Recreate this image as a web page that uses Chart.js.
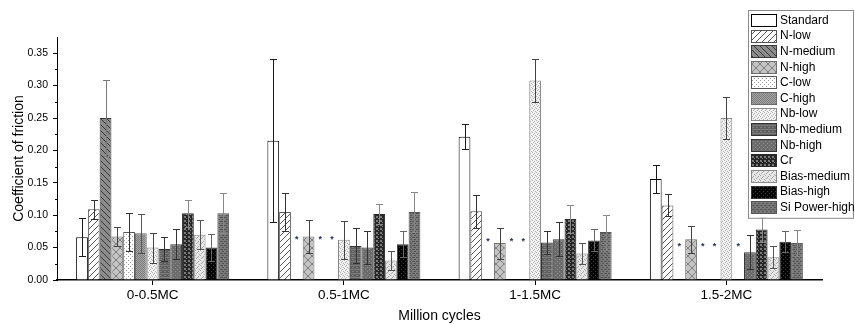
<!DOCTYPE html>
<html lang="en">
<head>
    <meta charset="utf-8"/>
    <title>Coefficient of friction</title>
    <script src="https://cdn.jsdelivr.net/npm/chart.js"></script>
    <style>
        body {
            margin: 0;
            background: #ffffff;
        }
        #chart {
            display: block;
        }
    </style>
</head>
<body>
    <canvas id="chart" width="855" height="324"></canvas>

    <script>
        // data
        const categories = ['0-0.5MC', '0.5-1MC', '1-1.5MC', '1.5-2MC'];
        const seriesNames = ['Standard', 'N-low', 'N-medium', 'N-high', 'C-low', 'C-high', 'Nb-low',
            'Nb-medium', 'Nb-high', 'Cr', 'Bias-medium', 'Bias-high', 'Si Power-high'];

        const standard = [0.066, 0.215, 0.221, 0.156];
        const nLow = [0.109, 0.105, 0.106, 0.115];
        const nMedium = [0.250, null, null, null];
        const nHigh = [0.067, 0.067, 0.057, 0.063];
        const cLow = [0.074, null, null, null];
        const cHigh = [0.072, null, null, null];
        const nbLow = [0.050, 0.062, 0.308, 0.250];
        const nbMedium = [0.048, 0.0525, 0.058, null];
        const nbHigh = [0.055, 0.050, 0.063, 0.043];
        const cr = [0.103, 0.102, 0.094, 0.078];
        const biasMedium = [0.070, 0.030, 0.041, 0.035];
        const biasHigh = [0.050, 0.055, 0.061, 0.059];
        const siPowerHigh = [0.103, 0.105, 0.074, 0.057];

        const standardErr = [0.029, 0.126, 0.019, 0.0215];
        const nLowErr = [0.015, 0.029, 0.025, 0.017];
        const nMediumErr = [0.059, null, null, null];
        const nHighErr = [0.015, 0.026, 0.024, 0.021];
        const cLowErr = [0.030, null, null, null];
        const cHighErr = [0.030, null, null, null];
        const nbLowErr = [0.023, 0.029, 0.033, 0.033];
        const nbMediumErr = [0.018, 0.027, 0.018, null];
        const nbHighErr = [0.023, 0.025, 0.026, 0.026];
        const crErr = [0.021, 0.016, 0.021, 0.019];
        const biasMediumErr = [0.022, 0.0145, 0.016, 0.017];
        const biasHighErr = [0.021, 0.020, 0.017, 0.016];
        const siPowerHighErr = [0.031, 0.031, 0.027, 0.020];

        // height of the "*" marks standing in for missing bars, per group
        const missingMarkY = [0.066, 0.066, 0.062, 0.054];

        const yTicks = [0, 0.05, 0.10, 0.15, 0.20, 0.25, 0.30, 0.35];
        const yMinorTicks = [0.025, 0.075, 0.125, 0.175, 0.225, 0.275, 0.325];

        const values = [standard, nLow, nMedium, nHigh, cLow, cHigh, nbLow, nbMedium, nbHigh, cr,
            biasMedium, biasHigh, siPowerHigh];
        const errors = [standardErr, nLowErr, nMediumErr, nHighErr, cLowErr, cHighErr, nbLowErr,
            nbMediumErr, nbHighErr, crErr, biasMediumErr, biasHighErr, siPowerHighErr];

        const FONT = "'Liberation Sans', Arial, sans-serif";

        // hatch / dot fills
        function makePattern(size, bg, draw) {
            const c = document.createElement('canvas');
            c.width = size;
            c.height = size;
            const g = c.getContext('2d');
            g.fillStyle = bg;
            g.fillRect(0, 0, size, size);
            if (draw) draw(g, size);
            return g.createPattern(c, 'repeat');
        }
        function diag(g, s, color, dir) {
            g.strokeStyle = color;
            g.lineWidth = 1;
            g.beginPath();
            for (let k = -1; k <= 1; k++) {
                if (dir > 0) {
                    g.moveTo(k * s, s); g.lineTo(k * s + s, 0);
                } else {
                    g.moveTo(k * s, 0); g.lineTo(k * s + s, s);
                }
            }
            g.stroke();
        }
        function dots(g, color, pts) {
            g.fillStyle = color;
            pts.forEach(p => g.fillRect(p[0], p[1], 1, 1));
        }

        const fills = [
            '#ffffff',
            makePattern(6, '#ffffff', (g, s) => diag(g, s, '#555555', 1)),
            makePattern(6, '#8c8c8c', (g, s) => diag(g, s, '#3a3a3a', -1)),
            makePattern(8, '#c4c4c4', (g, s) => { diag(g, s, '#808080', 1); diag(g, s, '#808080', -1); }),
            makePattern(4, '#ffffff', g => dots(g, '#9a9a9a', [[0, 0], [2, 2]])),
            makePattern(2, '#a6a6a6', g => dots(g, '#7c7c7c', [[0, 0], [1, 1]])),
            makePattern(4, '#f2f2f2', g => dots(g, '#b0b0b0', [[0, 0], [2, 1], [1, 2], [3, 3]])),
            makePattern(4, '#5e5e5e', g => { g.fillStyle = '#7e7e7e'; g.fillRect(0, 1, 4, 1); g.fillRect(0, 3, 2, 1); }),
            makePattern(4, '#6c6c6c', g => dots(g, '#8e8e8e', [[1, 1], [3, 3]])),
            makePattern(4, '#262626', g => { g.fillStyle = '#7a7a7a'; g.fillRect(0, 0, 2, 2); g.fillRect(2, 2, 1, 1); }),
            makePattern(5, '#e6e6e6', g => dots(g, '#a8a8a8', [[0, 0], [3, 1], [1, 3], [4, 4], [2, 2]])),
            makePattern(4, '#050505', g => dots(g, '#3c3c3c', [[1, 1], [3, 3]])),
            makePattern(4, '#7a7a7a', g => { g.fillStyle = '#555555'; g.fillRect(0, 1, 3, 1); g.fillRect(2, 3, 3, 1); })
        ];
        const borders = ['#000000', '#555555', '#3a3a3a', '#707070', '#555555', '#6a6a6a', '#8a8a8a',
            '#333333', '#333333', '#2a2a2a', '#8a8a8a', '#333333', '#555555'];
        const errColors = ['#1a1a1a', '#333333', '#7a7a7a', '#444444', '#333333', '#555555', '#444444',
            '#333333', '#333333', '#888888', '#555555', '#666666', '#888888'];

        // error bars and "*" marks for missing values
        const errorBarPlugin = {
            id: 'errorBars',
            afterDatasetsDraw(chart) {
                const ctx = chart.ctx;
                const y = chart.scales.y;
                ctx.save();
                values.forEach((vals, i) => {
                    const meta = chart.getDatasetMeta(i);
                    meta.data.forEach((bar, j) => {
                        const v = vals[j];
                        if (v === null) {
                            ctx.fillStyle = '#1f2d55';
                            ctx.font = 'bold 9px ' + FONT;
                            ctx.textAlign = 'center';
                            ctx.textBaseline = 'middle';
                            ctx.fillText('*', bar.x, y.getPixelForValue(missingMarkY[j]) + 2);
                            return;
                        }
                        const e = errors[i][j];
                        const top = Math.round(y.getPixelForValue(v + e)) + 0.5;
                        const bot = Math.round(y.getPixelForValue(v - e)) + 0.5;
                        const x = Math.round(bar.x) + 0.5;
                        ctx.strokeStyle = errColors[i];
                        ctx.lineWidth = 1;
                        ctx.beginPath();
                        ctx.moveTo(x, top); ctx.lineTo(x, bot);
                        ctx.moveTo(x - 3.5, top); ctx.lineTo(x + 3.5, top);
                        ctx.moveTo(x - 3.5, bot); ctx.lineTo(x + 3.5, bot);
                        ctx.stroke();
                    });
                });
                ctx.restore();
            }
        };

        // minor ticks on the y axis
        const minorTickPlugin = {
            id: 'minorTicks',
            afterDraw(chart) {
                const ctx = chart.ctx;
                const y = chart.scales.y;
                const x0 = chart.chartArea.left;
                ctx.save();
                ctx.strokeStyle = '#000';
                ctx.lineWidth = 1;
                ctx.beginPath();
                yMinorTicks.forEach(t => {
                    const py = Math.round(y.getPixelForValue(t)) + 0.5;
                    ctx.moveTo(x0 - 2, py); ctx.lineTo(x0, py);
                });
                ctx.stroke();
                ctx.restore();
            }
        };

        // boxed legend inside the plot, top right
        const boxLegendPlugin = {
            id: 'boxLegend',
            afterDraw(chart) {
                const ctx = chart.ctx;
                const left = 748, top = 10, w = 105, rowH = 15.6;
                const h = seriesNames.length * rowH + 5;
                ctx.save();
                ctx.fillStyle = '#ffffff';
                ctx.fillRect(left, top, w, h);
                ctx.strokeStyle = '#8a8a8a';
                ctx.lineWidth = 1;
                ctx.strokeRect(left + 0.5, top + 0.5, w, h);
                ctx.font = '12px ' + FONT;
                ctx.textBaseline = 'middle';
                ctx.textAlign = 'left';
                seriesNames.forEach((name, i) => {
                    const cy = top + 10.5 + i * rowH;
                    const sy = Math.round(cy - 6.5);
                    ctx.fillStyle = fills[i];
                    ctx.fillRect(left + 3, sy, 26, 13);
                    ctx.strokeStyle = borders[i];
                    ctx.strokeRect(left + 3.5, sy + 0.5, 25, 12);
                    ctx.fillStyle = '#000';
                    ctx.fillText(name, left + 32, cy);
                });
                ctx.restore();
            }
        };

        const datasets = seriesNames.map((name, i) => ({
            label: name,
            data: values[i],
            backgroundColor: fills[i],
            borderColor: borders[i],
            borderWidth: 1,
            categoryPercentage: 0.8,
            barPercentage: 1.0
        }));

        Chart.defaults.color = '#000';
        Chart.defaults.font.family = FONT;

        new Chart(document.getElementById('chart'), {
            type: 'bar',
            data: { labels: categories, datasets: datasets },
            options: {
                responsive: false,
                animation: false,
                layout: { padding: { left: 0, right: 33, top: 37, bottom: 0 } },
                plugins: {
                    legend: { display: false },
                    tooltip: { enabled: false }
                },
                scales: {
                    x: {
                        offset: true,
                        grid: { offset: false, drawOnChartArea: false, tickLength: 5, color: '#000' },
                        border: { color: '#000', width: 1.5 },
                        ticks: { font: { size: 13.5 }, padding: 2 },
                        title: {
                            display: true,
                            text: 'Million cycles',
                            font: { size: 14 },
                            padding: { top: 0, bottom: -1 }
                        },
                        afterFit(scale) { scale.height = 44; }
                    },
                    y: {
                        min: 0,
                        max: 0.375,
                        grid: { drawOnChartArea: false, tickLength: 4, color: '#000' },
                        border: { color: '#000', width: 1 },
                        ticks: {
                            font: { size: 10.5 },
                            padding: 5,
                            callback: v => Number(v).toFixed(2)
                        },
                        afterBuildTicks(scale) {
                            scale.ticks = yTicks.map(v => ({ value: v }));
                        },
                        title: {
                            display: true,
                            text: 'Coefficient of friction',
                            font: { size: 14 },
                            padding: { top: 11, bottom: 0 }
                        },
                        afterFit(scale) { scale.width = 57; }
                    }
                }
            },
            plugins: [errorBarPlugin, minorTickPlugin, boxLegendPlugin]
        });
    </script>
</body>
</html>
